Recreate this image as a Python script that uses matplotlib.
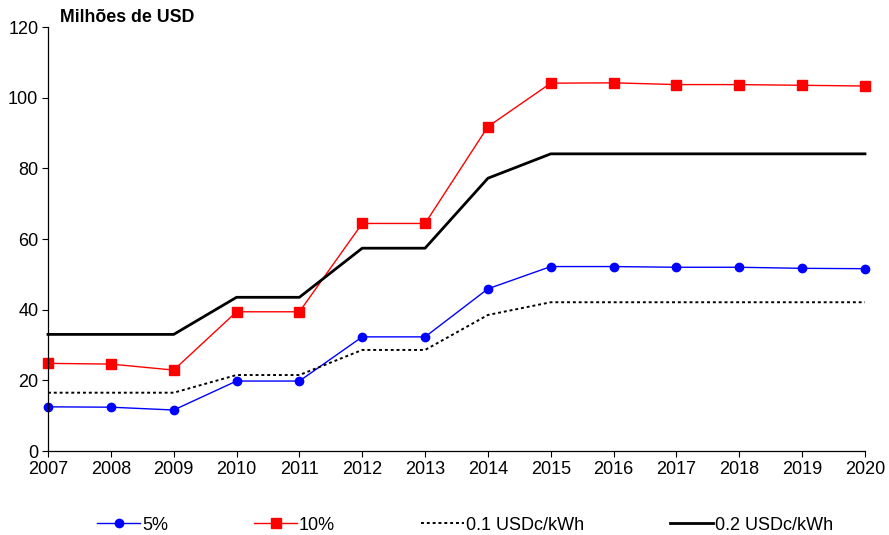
import matplotlib.pyplot as plt

years = list(range(2007, 2021))

# Milhões de USD
pct5 = [12.5, 12.4, 11.6, 19.8, 19.8, 32.3, 32.3, 45.9, 52.2, 52.2, 52.0, 52.0, 51.7, 51.6]
pct10 = [24.8, 24.6, 22.9, 39.4, 39.4, 64.4, 64.4, 91.8, 104.1, 104.2, 103.7, 103.7, 103.5, 103.3]
usdc01 = [16.5, 16.5, 16.5, 21.5, 21.5, 28.6, 28.6, 38.5, 42.1, 42.1, 42.1, 42.1, 42.1, 42.1]
usdc02 = [33.0, 33.0, 33.0, 43.5, 43.5, 57.4, 57.4, 77.2, 84.1, 84.1, 84.1, 84.1, 84.1, 84.1]

plt.rcParams['font.family'] = ['Liberation Sans', 'DejaVu Sans']

fig = plt.figure(figsize=(8.89, 5.35), dpi=100)
ax = fig.add_axes([48 / 889, 84 / 535, 817 / 889, 424 / 535])

ax.plot(years, pct5, color='#0000ff', lw=1, marker='o', markersize=6, label='5%')
ax.plot(years, pct10, color='#ff0000', lw=1, marker='s', markersize=6.5, label='10%')
ax.plot(years, usdc01, color='black', lw=1.4, linestyle=(0, (1.5, 1.5)), label='0.1 USDc/kWh')
ax.plot(years, usdc02, color='black', lw=2, label='0.2 USDc/kWh')

ax.set_xlim(2007, 2020)
ax.set_ylim(0, 120)
ax.set_xticks(years)
ax.set_yticks(range(0, 121, 20))
ax.tick_params(labelsize=13, direction='out', length=4, width=0.8, pad=3)
ax.spines['top'].set_visible(False)
ax.spines['right'].set_visible(False)
for s in ('left', 'bottom'):
    ax.spines[s].set_linewidth(0.9)
for line in ax.lines:
    line.set_clip_on(False)

fig.text(60 / 889, 1 - 18 / 535, 'Milhões de USD', fontsize=12.8, fontweight='bold',
         va='center', ha='left')

fig.legend(loc='center left', bbox_to_anchor=(97 / 889, 10 / 535), ncol=4,
           frameon=False, fontsize=13, handlelength=2.4, handletextpad=0.1,
           columnspacing=4.75, borderpad=0, borderaxespad=0)

fig.savefig('out.png', dpi=100)
